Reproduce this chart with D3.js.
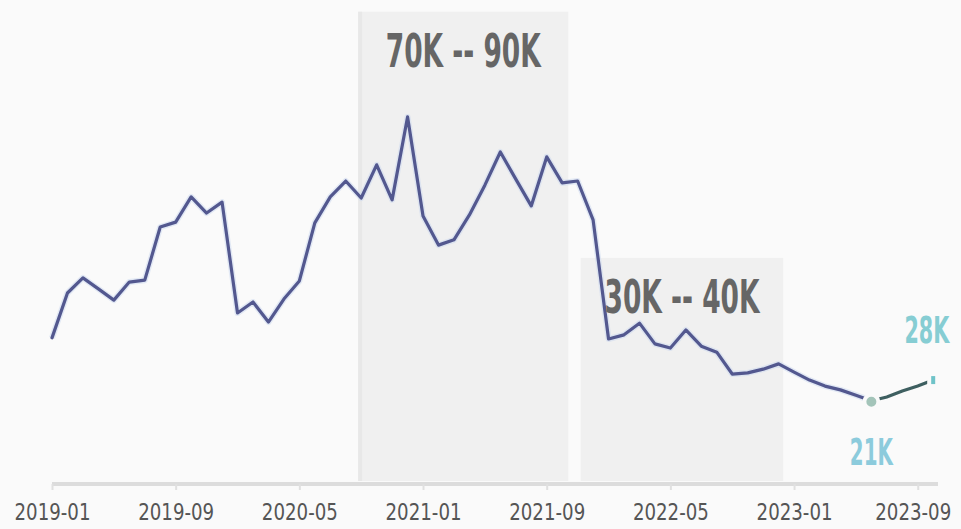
<!DOCTYPE html>
<html>
<head>
<meta charset="utf-8">
<script src="https://cdn.jsdelivr.net/npm/d3@7/dist/d3.min.js"></script>
<style>
  html, body { margin: 0; padding: 0; background: #fafafa; }
  svg { display: block; }
</style>
</head>
<body>
<svg id="chart" width="961" height="529"></svg>
<script>
// ---- data ----
const months = [];
for (let y = 2019; y <= 2023; y++) {
  for (let m = 1; m <= 12; m++) {
    if (y === 2023 && m > 10) break;
    months.push(y + "-" + String(m).padStart(2, "0"));
  }
}
// values in thousands
const values = [
  38.5, 50.4, 54.4, 51.5, 48.5, 53.3, 53.8, 67.9, 69.2, 75.9, 71.6, 74.5,
  45.1, 48.0, 42.7, 48.8, 53.6, 69.0, 75.9, 80.1, 75.6, 84.4, 75.1, 97.1,
  70.8, 63.1, 64.5, 71.1, 79.0, 87.8, 80.6, 73.5, 86.5, 79.6, 80.1, 69.8,
  38.2, 39.3, 42.4, 36.9, 35.8, 40.6, 36.3, 34.7, 28.9, 29.2, 30.2, 31.6,
  29.4, 27.3, 25.7, 24.7, 23.3, 21.8, 22.8, 24.4, 25.7, 27.3
];
const tickLabels = ["2019-01", "2019-09", "2020-05", "2021-01", "2021-09", "2022-05", "2023-01", "2023-09"];
// shaded ranges: month-index start/end, value top (K)
const bandLabels = ["70K -- 90K", "30K -- 40K"];
const bandStart = [19.8, 34.2];
const bandEnd = [33.4, 47.3];
const bandTop = [125, 59.7];
const minLabel = "21K";
const lastLabel = "28K";
const minIndex = 53;

// ---- layout ----
const svg = d3.select("#chart");
const W = 961, H = 529;
svg.append("rect").attr("width", W).attr("height", H).attr("fill", "#fafafa");

const x = d3.scaleLinear().domain([0, months.length - 1]).range([52, 933.2]);
const y = d3.scaleLinear().domain([0, 125]).range([483, 11.75]);

const FONT = "'DejaVu Sans Condensed', 'DejaVu Sans', sans-serif";

// bands
const bands = bandLabels.map((l, i) => ({ label: l, s: bandStart[i], e: bandEnd[i], top: bandTop[i] }));
const bg = svg.append("g");
bands.forEach((b, i) => {
  bg.append("rect")
    .attr("x", x(b.s)).attr("y", y(b.top))
    .attr("width", x(b.e) - x(b.s)).attr("height", y(0) - y(b.top) - 2)
    .attr("fill", "#f0f0f0");
  if (i === 0) {
    bg.append("rect")
      .attr("x", x(b.s)).attr("y", y(b.top))
      .attr("width", 4).attr("height", y(0) - y(b.top) - 2)
      .attr("fill", "#e8e8e8");
  }
});

// axis
const tickIdx = tickLabels.map(t => months.indexOf(t));
const axis = d3.axisBottom(x).tickValues(tickIdx).tickFormat(d => months[d]).tickSize(6).tickPadding(16);
const ax = svg.append("g").attr("transform", "translate(0,484)").call(axis);
ax.select(".domain").attr("stroke", "#dcdcdc").attr("stroke-width", 4).attr("d", "M52,0H938");
ax.selectAll(".tick line").attr("stroke", "#e0e0e0").attr("stroke-width", 2);
ax.selectAll(".tick text")
  .attr("fill", "#555")
  .attr("font-family", FONT)
  .attr("font-size", 23)
  .attr("textLength", 76)
  .attr("lengthAdjust", "spacingAndGlyphs")
  .attr("y", 36)
  .attr("dy", null);
// keep the last label inside the right edge
ax.selectAll(".tick text")
  .filter((d, i, n) => i === n.length - 1)
  .attr("text-anchor", "end")
  .attr("x", 33);

// line
const pts = values.map((v, i) => [x(i), y(v)]);
const lineGen = d3.line();
svg.append("path")
  .attr("d", lineGen(pts.slice(0, minIndex + 1)))
  .attr("fill", "none")
  .attr("stroke", "#c9d8f0").attr("stroke-width", 6).attr("stroke-opacity", 0.5)
  .attr("stroke-linejoin", "round");
svg.append("path")
  .attr("d", lineGen(pts.slice(0, minIndex + 1)))
  .attr("fill", "none")
  .attr("stroke", "#53588f").attr("stroke-width", 3.2)
  .attr("stroke-linejoin", "round").attr("stroke-linecap", "round");
svg.append("path")
  .attr("d", lineGen(pts.slice(minIndex)))
  .attr("fill", "none")
  .attr("stroke", "#3e5f60").attr("stroke-width", 3.2)
  .attr("stroke-linecap", "round");

// markers
const last = values.length - 1;
svg.append("circle")
  .attr("cx", x(minIndex)).attr("cy", y(values[minIndex]) + 1).attr("r", 7)
  .attr("fill", "#a3c4b9").attr("stroke", "#fafafa").attr("stroke-width", 4);
svg.append("rect")
  .attr("x", x(last) - 4).attr("y", y(values[last]) - 6)
  .attr("width", 8).attr("height", 12)
  .attr("fill", "#6fc3c8").attr("stroke", "#fafafa").attr("stroke-width", 4);

// band labels
bands.forEach(b => {
  svg.append("text")
    .attr("x", (x(b.s) + x(b.e)) / 2)
    .attr("y", y(b.top) + 55)
    .attr("text-anchor", "middle")
    .attr("font-family", FONT)
    .attr("font-weight", "bold")
    .attr("font-size", 46)
    .attr("textLength", 155)
    .attr("lengthAdjust", "spacingAndGlyphs")
    .attr("fill", "#666")
    .text(b.label);
});

// min / last labels
svg.append("text")
  .attr("x", x(minIndex)).attr("y", 465)
  .attr("text-anchor", "middle")
  .attr("font-family", FONT)
  .attr("font-weight", "bold")
  .attr("font-size", 38)
  .attr("textLength", 43)
  .attr("lengthAdjust", "spacingAndGlyphs")
  .attr("fill", "#8ccbdc")
  .text(minLabel);
svg.append("text")
  .attr("transform", `translate(${x(last) + 16},343) scale(1,1.6)`)
  .attr("text-anchor", "end")
  .attr("font-family", FONT)
  .attr("font-weight", "bold")
  .attr("font-size", 23)
  .attr("fill", "#86cdd3")
  .text(lastLabel);
</script>
</body>
</html>
